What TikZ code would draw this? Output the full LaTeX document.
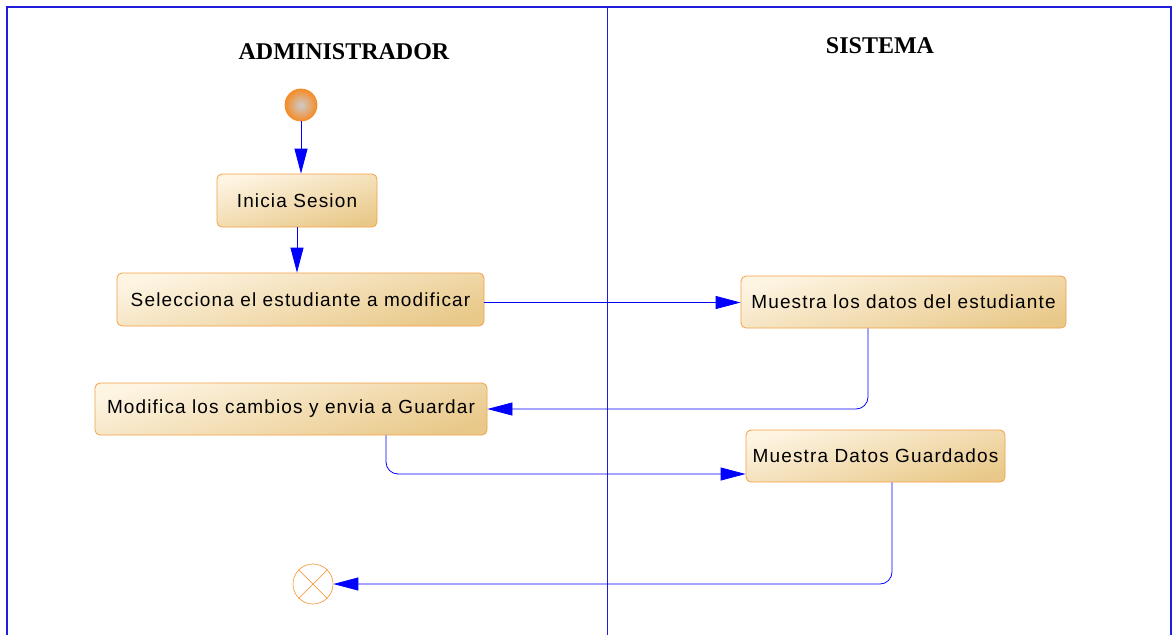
\documentclass[tikz,border=0pt]{standalone}
\usepackage{fontspec}
\setmainfont{Liberation Sans}
\newfontfamily\titlefont{Liberation Serif}
\newfontfamily\boxfont[LetterSpace=6]{Liberation Sans}
\usetikzlibrary{arrows.meta,shapes.misc}
\definecolor{framecol}{RGB}{30,30,220}
\definecolor{flowcol}{RGB}{0,0,255}
\definecolor{actborder}{RGB}{245,160,70}
\definecolor{actlight}{RGB}{253,244,226}
\definecolor{actdark}{RGB}{233,201,138}
\definecolor{startorange}{RGB}{245,140,40}
\tikzset{
  act/.style={draw=actborder, line width=0.8pt, rounded corners=5pt,
    top color=actlight, bottom color=actdark, shading angle=15,
    minimum height=52pt, inner sep=0pt, text=black,
    font=\boxfont\fontsize{19}{22}\selectfont},
  flow/.style={draw=flowcol, line width=0.8pt, -{Triangle[length=25pt,width=13pt]}},
  bentflow/.style={flow, rounded corners=12pt},
  lanetitle/.style={font=\titlefont\bfseries\fontsize{24}{28}\selectfont, inner sep=0pt},
  startnode/.style={circle, draw=startorange, line width=0.8pt, minimum size=32pt, inner sep=0pt,
    inner color=gray!40, outer color=startorange},
  endnode/.style={circle, draw=actborder, line width=0.7pt, minimum size=40pt, inner sep=0pt, fill=white}
}
\begin{document}
\begin{tikzpicture}[x=1pt,y=-1pt]
\useasboundingbox (0,0) rectangle (1172,635);
\fill[white] (0,0) rectangle (1172,635);
% frame and lanes
\draw[framecol, line width=1.3pt] (7,635) -- (7,7) -- (1171,7) -- (1171,635);
\draw[framecol, line width=1pt] (607,7) -- (607,635);
\node[lanetitle] (t1) at (344,52) {ADMINISTRADOR};
\node[lanetitle] (t2) at (880,46) {SISTEMA};
% nodes
\node[startnode] (start) at (301,105) {};
\node[act, minimum width=160pt, minimum height=53pt] (ini) at (297,200.5) {Inicia Sesion};
\node[act, minimum width=367pt, minimum height=53pt] (sel) at (300.5,299.5) {Selecciona el estudiante a modificar};
\node[act, minimum width=325pt] (mue) at (903.5,302) {Muestra los datos del estudiante};
\node[act, minimum width=392pt] (mod) at (291,409) {Modifica los cambios y envia a Guardar};
\node[act, minimum width=259pt] (mdg) at (875.5,456) {Muestra Datos Guardados};
\node[endnode] (endn) at (313,584) {};
\draw[actborder, line width=0.7pt] (endn.north west) -- (endn.south east);
\draw[actborder, line width=0.7pt] (endn.north east) -- (endn.south west);
% connectors
\draw[flow] (start.south) -- (start.south |- ini.north);
\draw[flow] (ini.south) -- (ini.south |- sel.north);
\draw[flow] ([yshift=-3pt]sel.east) -- ([yshift=-3pt]sel.east -| mue.west);
\draw[bentflow] ([xshift=-35.5pt]mue.south) |- (mod.east);
\draw[bentflow] ([xshift=95pt]mod.south) |- ([yshift=-18pt]mdg.west);
\draw[bentflow] ([xshift=16.5pt]mdg.south) |- (endn.east);
\end{tikzpicture}
\end{document}
